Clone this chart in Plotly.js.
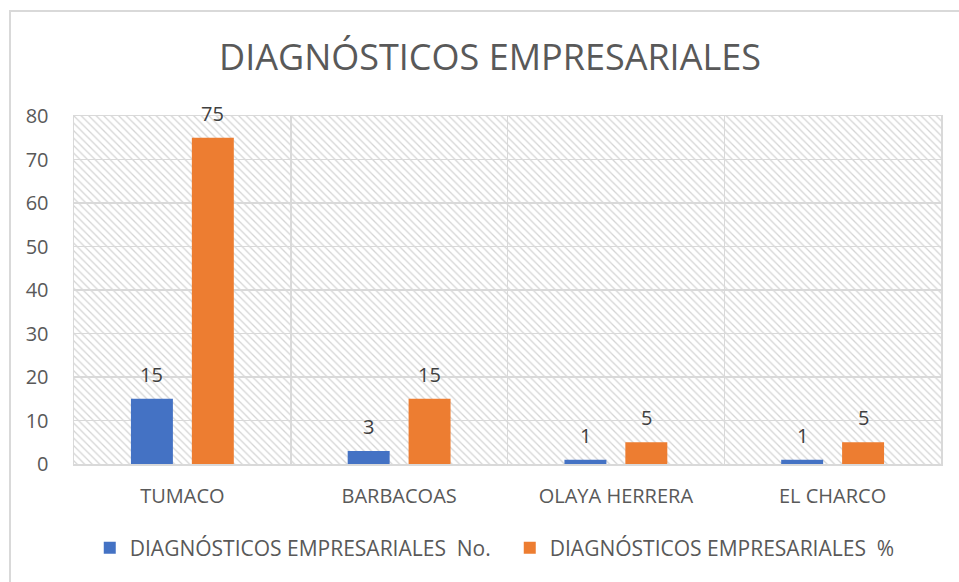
<!DOCTYPE html>
<html>
<head>
<meta charset="utf-8">
<script src="https://cdn.plot.ly/plotly-3.0.1.min.js"></script>
<style>html,body{margin:0;padding:0;background:#fff;}#chart{width:959px;height:582px;}</style>
</head>
<body>
<div id="chart"></div>
<script>
const categories = ["TUMACO", "BARBACOAS", "OLAYA HERRERA", "EL CHARCO"];
const seriesNo = [15, 3, 1, 1];
const seriesPct = [75, 15, 5, 5];
const seriesNames = ["DIAGNÓSTICOS EMPRESARIALES  No.", "DIAGNÓSTICOS EMPRESARIALES  %"];
const yTicks = [0, 10, 20, 30, 40, 50, 60, 70, 80];

const FONT = "Open Sans, sans-serif";
const hatchSvg = '<svg xmlns="http://www.w3.org/2000/svg" width="867" height="348">' +
  '<defs><pattern id="h" width="7.5" height="7.5" patternUnits="userSpaceOnUse">' +
  '<path d="M-1,-1 L8.5,8.5 M-8.5,-1 L1,8.5 M6.5,-1 L16,8.5" stroke="#d4d4d4" stroke-width="1.3"/></pattern></defs>' +
  '<rect width="867" height="348" fill="url(#h)"/></svg>';
const hatchUri = 'data:image/svg+xml;base64,' + btoa(hatchSvg);

const traces = [
  {type: "bar", x: categories, y: seriesNo, name: seriesNames[0],
   marker: {color: "#4472C4"}, hoverinfo: "none"},
  {type: "bar", x: categories, y: seriesPct, name: seriesNames[1],
   marker: {color: "#ED7D31"}, hoverinfo: "none"}
];

const labelFont = {family: FONT, size: 20, color: "#404040"};
const annotations = [];
[seriesNo, seriesPct].forEach(function (vals, s) {
  vals.forEach(function (v, i) {
    annotations.push({x: categories[i], y: v, xref: "x", yref: "y", text: String(v),
      showarrow: false, xshift: s === 0 ? -30.5 : 30.5, yanchor: "bottom", yshift: 9, font: labelFont});
  });
});

const layout = {
  width: 959, height: 582,
  margin: {l: 74, r: 18, t: 116, b: 118},
  paper_bgcolor: "#ffffff",
  plot_bgcolor: "rgba(0,0,0,0)",
  font: {family: FONT, color: "#595959"},
  title: {text: "DIAGNÓSTICOS EMPRESARIALES", font: {family: FONT, size: 36, color: "#595959"},
          x: 490/959, xanchor: "center", y: 1 - 57/582, yanchor: "middle", xref: "container", yref: "container"},
  barmode: "group",
  bargap: 0.438,
  bargroupgap: 0.311,
  xaxis: {type: "category", tickson: "boundaries", showgrid: true, gridcolor: "#d9d9d9", gridwidth: 1.5,
          showline: true, linecolor: "#d9d9d9", linewidth: 1.5, mirror: true, ticks: "",
          tickfont: {family: FONT, size: 20, color: "#595959"}, ticklabelstandoff: 13, zeroline: false,
          automargin: false},
  yaxis: {range: [0, 80], tickvals: yTicks, showgrid: true, gridcolor: "#d9d9d9", gridwidth: 1.5,
          showline: true, linecolor: "#d9d9d9", linewidth: 1.5, mirror: true, ticks: "",
          tickfont: {family: FONT, size: 20, color: "#595959"}, ticklabelstandoff: 20, zeroline: false,
          automargin: false},
  legend: {orientation: "h", x: 482/959, xanchor: "center", y: (464-548)/348, yanchor: "middle",
           font: {family: FONT, size: 21, color: "#595959"}, itemwidth: 30, tracegroupgap: 0,
           entrywidth: 375, entrywidthmode: "pixels"},
  annotations: annotations,
  images: [{source: hatchUri, xref: "paper", yref: "paper", x: 0, y: 1, sizex: 1, sizey: 1,
            sizing: "stretch", xanchor: "left", yanchor: "top", layer: "below"}],
  shapes: [{type: "rect", xref: "paper", yref: "paper", x0: (10-74)/867, x1: (975-74)/867,
            y0: (464-600)/348, y1: (464-11)/348, line: {color: "#d9d9d9", width: 2}, fillcolor: "rgba(0,0,0,0)", layer: "below"}]
};

Plotly.newPlot("chart", traces, layout, {displayModeBar: false, staticPlot: true});
</script>
</body>
</html>
